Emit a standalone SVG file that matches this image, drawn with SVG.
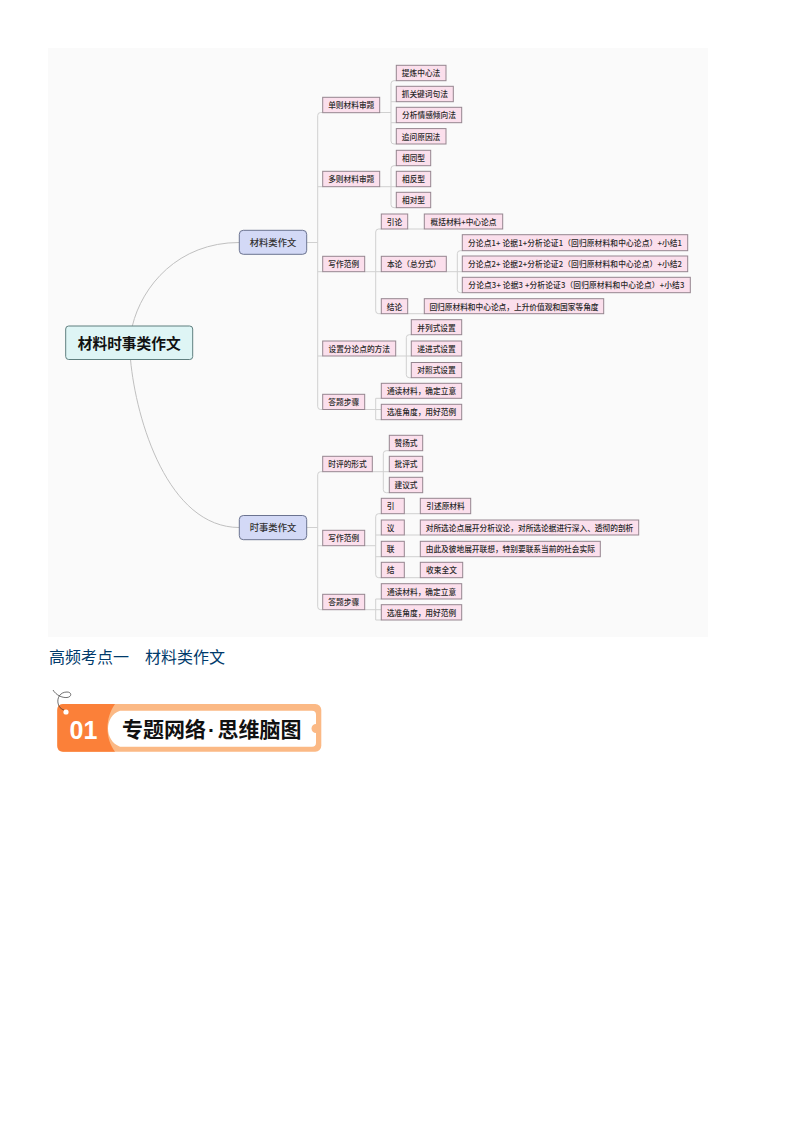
<svg xmlns="http://www.w3.org/2000/svg" width="794" height="1123" viewBox="0 0 794 1123">
<style>
text{font-family:"Noto Sans CJK SC","Noto Sans",sans-serif;text-anchor:middle}
.l rect{fill:#fbdfec;stroke:#95858f;stroke-width:1}
.l text{font-size:7.7px;fill:#2a2a2a;font-weight:500}
.m rect{fill:#d3d9f6;stroke:#6b7390;stroke-width:1}
.m text{font-size:9.300px;fill:#333;font-weight:500}
.c{fill:none;stroke:#d0d0d0;stroke-width:1}
.c2{fill:none;stroke:#c0c0c0;stroke-width:1}
</style>
<rect x="48" y="48" width="660" height="589" fill="#fafafa"/>
<g id="connectors">
<path class="c2" d="M132.300 326C142 286 178 242.500 239.300 242.500"/>
<path class="c2" d="M130.500 359.500C136 420 168 527.500 239.300 527.500"/>
<path class="c" d="M306.700 242.500H317.700M322.700 112.500H320.700Q317.700 112.500 317.700 115.500V406.500Q317.700 409.500 320.700 409.500H322.700M317.700 186.700H322.700M317.700 271.700H322.700M317.700 356H322.700"/>
<path class="c" d="M306.700 527.500H317.700M322.700 471.700H320.700Q317.700 471.700 317.700 474.700V606.700Q317.700 609.700 320.700 609.700H322.700M317.700 545.700H322.700"/>
<path class="c" d="M379.700 112.500H391M396.300 80.700H394Q391 80.700 391 83.700V141Q391 144 394 144H396.300M391 101.700H396.300M391 122.700H396.300"/>
<path class="c" d="M379.700 186.700H396.300M396.300 165.700H394Q391 165.700 391 168.700V204.700Q391 207.700 394 207.700H396.300"/>
<path class="c" d="M364.700 271.700H381.300M381.300 229H378.700Q375.700 229 375.700 232V310.700Q375.700 313.700 378.700 313.700H381.300M407.700 229H424.300M407.700 313.700H424.300"/>
<path class="c" d="M446.300 271.700H462.300M462.300 250.700H460.300Q457.300 250.700 457.300 253.700V289.700Q457.300 292.700 460.300 292.700H462.300"/>
<path class="c" d="M395.700 356H411.300M411.300 334.700H409.300Q406.300 334.700 406.300 337.700V374.700Q406.300 377.700 409.300 377.700H411.300"/>
<path class="c" d="M364.700 409.500H381.300M381.300 398.300H375.700V419.700H381.300"/>
<path class="c" d="M372.300 471.700H389.300M389.300 450.700H386.300Q383.300 450.700 383.300 453.700V489.700Q383.300 492.700 386.300 492.700H389.300"/>
<path class="c" d="M364.700 545.700H375.700M381.300 513.700H378.700Q375.700 513.700 375.700 516.700V574.700Q375.700 577.700 378.700 577.700H381.300M375.700 535H381.300M375.700 556.700H381.300M404.300 513.700H420.300M404.300 535H420.300M404.300 556.700H420.300M404.300 577.700H420.300"/>
<path class="c" d="M364.700 609.700H381.300M381.300 599H375.700V620H381.300"/>
</g>
<g id="root"><rect x="65.700" y="326" width="127" height="33.500" rx="3" fill="#def5f5" stroke="#5f7f7f" stroke-width="1"/><text x="129.200" y="349" font-size="14.700" font-weight="700" fill="#111">材料时事类作文</text></g>
<g id="n-cailiao" class="m"><rect x="239.300" y="230.300" width="67.400" height="24" rx="4"/><text x="273" y="246">材料类作文</text></g>
<g id="n-shishi" class="m"><rect x="239.300" y="515.500" width="67.400" height="24.200" rx="4"/><text x="273" y="531.300">时事类作文</text></g>
<g id="a1" class="l"><rect x="322.700" y="97.300" width="57" height="15.400"/><text x="351.200" y="108.300">单则材料审题</text></g>
<g id="a2" class="l"><rect x="396.300" y="65.300" width="49.700" height="15.400"/><text x="421.100" y="76.300">提炼中心法</text></g>
<g id="a3" class="l"><rect x="396.300" y="86.300" width="57" height="15.400"/><text x="424.800" y="97.300">抓关键词句法</text></g>
<g id="a4" class="l"><rect x="396.300" y="107.300" width="65.400" height="15.400"/><text x="429" y="118.300">分析情感倾向法</text></g>
<g id="a5" class="l"><rect x="396.300" y="128.600" width="49.700" height="15.400"/><text x="421.100" y="139.600">追问原因法</text></g>
<g id="b1" class="l"><rect x="322.700" y="171.300" width="57" height="15.400"/><text x="351.200" y="182.300">多则材料审题</text></g>
<g id="b2" class="l"><rect x="396.300" y="150.300" width="34.400" height="15.400"/><text x="413.500" y="161.300">相同型</text></g>
<g id="b3" class="l"><rect x="396.300" y="171.300" width="34.400" height="15.400"/><text x="413.500" y="182.300">相反型</text></g>
<g id="b4" class="l"><rect x="396.300" y="192.300" width="34.400" height="15.400"/><text x="413.500" y="203.300">相对型</text></g>
<g id="c1" class="l"><rect x="322.700" y="256.300" width="42" height="15.400"/><text x="343.700" y="267.300">写作范例</text></g>
<g id="c2" class="l"><rect x="381.300" y="214" width="26.400" height="15"/><text x="394.500" y="224.800">引论</text></g>
<g id="c3" class="l"><rect x="424.300" y="214" width="78.400" height="15"/><text x="463.500" y="224.800">概括材料+中心论点</text></g>
<g id="c4" class="l"><rect x="381.300" y="256.300" width="65" height="15.400"/><text x="413.800" y="267.300">本论（总分式）</text></g>
<g id="c5" class="l"><rect x="462.300" y="234.700" width="225.400" height="16"/><text x="575" y="246" textLength="214">分论点1+ 论据1+分析论证1（回归原材料和中心论点）+小结1</text></g>
<g id="c6" class="l"><rect x="462.300" y="256" width="225.400" height="15.700"/><text x="575" y="267.300" textLength="214">分论点2+ 论据2+分析论证2（回归原材料和中心论点）+小结2</text></g>
<g id="c7" class="l"><rect x="462.300" y="277.300" width="228" height="15.400"/><text x="576.300" y="288.300" textLength="216">分论点3+ 论据3 +分析论证3（回归原材料和中心论点）+小结3</text></g>
<g id="c8" class="l"><rect x="381.300" y="298.700" width="26.400" height="15"/><text x="394.500" y="309.500">结论</text></g>
<g id="c9" class="l"><rect x="424.300" y="298.700" width="179.400" height="15"/><text x="514" y="309.500">回归原材料和中心论点，上升价值观和国家等角度</text></g>
<g id="d1" class="l"><rect x="322.700" y="341" width="73" height="15"/><text x="359.200" y="351.800">设置分论点的方法</text></g>
<g id="d2" class="l"><rect x="411.300" y="319.700" width="50.400" height="15"/><text x="436.500" y="330.500">并列式设置</text></g>
<g id="d3" class="l"><rect x="411.300" y="341" width="50.400" height="15"/><text x="436.500" y="351.800">递进式设置</text></g>
<g id="d4" class="l"><rect x="411.300" y="362.500" width="50.400" height="15.200"/><text x="436.500" y="373.400">对照式设置</text></g>
<g id="e1" class="l"><rect x="322.700" y="394.300" width="42" height="15.200"/><text x="343.700" y="405.200">答题步骤</text></g>
<g id="e2" class="l"><rect x="381.300" y="383.300" width="80.400" height="15"/><text x="421.500" y="394.100">通读材料，确定立意</text></g>
<g id="e3" class="l"><rect x="381.300" y="404.300" width="80.400" height="15.400"/><text x="421.500" y="415.300">选准角度，用好范例</text></g>
<g id="f1" class="l"><rect x="322.700" y="456.300" width="49.600" height="15.400"/><text x="347.500" y="467.300">时评的形式</text></g>
<g id="f2" class="l"><rect x="389.300" y="435.300" width="33.400" height="15.400"/><text x="406" y="446.300">赞扬式</text></g>
<g id="f3" class="l"><rect x="389.300" y="456.300" width="33.400" height="15.400"/><text x="406" y="467.300">批评式</text></g>
<g id="f4" class="l"><rect x="389.300" y="477.300" width="33.400" height="15.400"/><text x="406" y="488.300">建议式</text></g>
<g id="g1" class="l"><rect x="322.700" y="530.300" width="42" height="15.400"/><text x="343.700" y="541.300">写作范例</text></g>
<g id="g2" class="l"><rect x="381.300" y="498.300" width="23" height="15.400"/><text x="390.500" y="509.300">引</text></g>
<g id="g3" class="l"><rect x="420.300" y="498.300" width="50.400" height="15.400"/><text x="445.500" y="509.300">引述原材料</text></g>
<g id="g4" class="l"><rect x="381.300" y="520" width="23" height="15"/><text x="390.500" y="530.800">议</text></g>
<g id="g5" class="l"><rect x="420.300" y="520" width="218.400" height="15"/><text x="529.500" y="530.800">对所选论点展开分析议论，对所选论据进行深入、透彻的剖析</text></g>
<g id="g6" class="l"><rect x="381.300" y="541.300" width="23" height="15.400"/><text x="390.500" y="552.300">联</text></g>
<g id="g7" class="l"><rect x="420.300" y="541.300" width="180" height="15.400"/><text x="510.300" y="552.300">由此及彼地展开联想，特别要联系当前的社会实际</text></g>
<g id="g8" class="l"><rect x="381.300" y="562.300" width="23" height="15.400"/><text x="390.500" y="573.300">结</text></g>
<g id="g9" class="l"><rect x="420.300" y="562.300" width="42.400" height="15.400"/><text x="441.500" y="573.300">收束全文</text></g>
<g id="h1" class="l"><rect x="322.700" y="594.300" width="42" height="15.400"/><text x="343.700" y="605.300">答题步骤</text></g>
<g id="h2" class="l"><rect x="381.300" y="583.700" width="80.400" height="15.300"/><text x="421.500" y="594.600">通读材料，确定立意</text></g>
<g id="h3" class="l"><rect x="381.300" y="604.700" width="80.400" height="15.300"/><text x="421.500" y="615.600">选准角度，用好范例</text></g>
<text x="137" y="662.500" font-size="16" fill="#003a6b">高频考点一　材料类作文</text>
<rect x="57.300" y="704" width="264" height="47.700" rx="6" fill="#fbb985"/>
<path d="M63 704H115C105 718 105 738 115 751.700H63Q57.300 751.700 57.300 746V710Q57.300 704 63 704Z" fill="#fb8039"/>
<path d="M120 710.700H312Q316 710.700 316 714.700V724A4.500 4.500 0 0 0 316 733V742.700Q316 746.700 312 746.700H120C104 741 104 716 120 710.700Z" fill="#fff"/>
<circle cx="66" cy="712" r="2.600" fill="#fff"/>
<path d="M53 690C56 695 62 698 67 697.500C72 697 72 692 67 692C60 692 57 698 58 703C58.500 707 61 709 64 710" fill="none" stroke="#333" stroke-width=".7"/>
<text x="83.500" y="739" font-size="25" font-weight="700" fill="#fff" style="font-family:'Liberation Sans',sans-serif">01</text>
<text y="737" font-size="21" font-weight="700" fill="#111" style="text-anchor:start"><tspan x="122">专题网络</tspan><tspan x="208" style="font-family:'Liberation Sans',sans-serif">·</tspan><tspan x="217.500">思维脑图</tspan></text>
</svg>
